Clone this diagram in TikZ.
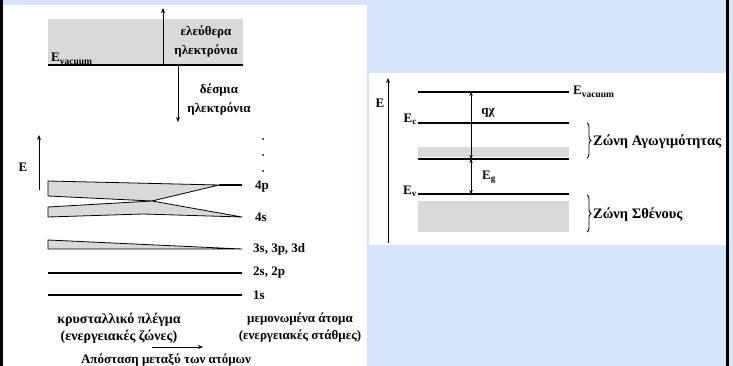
\documentclass[tikz,border=0pt]{standalone}
\usepackage{fontspec}
\setmainfont{Liberation Serif}
\usetikzlibrary{arrows.meta,decorations.pathreplacing}
\definecolor{slideblue}{HTML}{D4E5F7}
\definecolor{bandgray}{HTML}{D9D9D9}
\newcommand{\vacsub}[1]{\raisebox{-0.35ex}{\fontsize{9.5}{10}\selectfont #1}}

\begin{document}
\begin{tikzpicture}[x=1pt,y=-1pt,
  lbl/.style={font=\bfseries\fontsize{13}{19}\selectfont,inner sep=1pt,align=center},
  lbltight/.style={font=\bfseries\fontsize{13}{17}\selectfont,inner sep=1pt,align=center},
  lblwide/.style={font=\bfseries\fontsize{14}{17}\selectfont,inner sep=1pt,align=center},
  zonelbl/.style={font=\bfseries\fontsize{14.5}{16}\selectfont,inner sep=1pt,anchor=west},
  lvl/.style={line width=1.1pt},
  thicklvl/.style={line width=1.9pt},
  band/.style={fill=bandgray,draw=black,line width=0.8pt,line join=round},
  arr/.style={-{Stealth[length=5pt,width=4pt]},line width=0.9pt},
  dblarr/.style={{Stealth[length=4pt,width=3.5pt]}-{Stealth[length=4pt,width=3.5pt]},line width=0.8pt},
  zbrace/.style={decorate,decoration={brace,amplitude=4pt},line width=0.9pt}]
% slide background and panels
\fill[slideblue] (0,0) rectangle (733,366);
\useasboundingbox (0,0) rectangle (733,366);
\fill[white] (3,5) rectangle (367,366);
\fill[white] (369,73) rectangle (726,245);

% left panel: free and bound electrons
\fill[bandgray] (48,19) rectangle (243,65);
\draw[lvl] (48,65) -- (243,65);
\node[lbl,anchor=base west] (evacl) at (50,62) {E\vacsub{vacuum}};
\coordinate (upfrom) at (163,65);
\coordinate (upto) at (163,8);
\draw[arr] (upfrom) -- (upto);
\node[lbl] (free) at (206,42) {ελεύθερα\\ηλεκτρόνια};
\coordinate (downfrom) at (178,65);
\coordinate (downto) at (178,122);
\draw[arr] (downfrom) -- (downto);
\node[lbl] (bound) at (219,100) {δέσμια\\ηλεκτρόνια};

% energy axis and bands
\coordinate (eaxfrom) at (39,190);
\coordinate (eaxto) at (39,135);
\draw[arr] (eaxfrom) -- (eaxto);
\node[lbl] (el) at (23,167) {E};
\foreach \y in {139,155,171}
  \fill (263,\y) circle (1pt);
\filldraw[band] (48,181) -- (219,185) -- (152,201) -- (48,196) -- cycle;
\draw[lvl] (219,185) -- (242,185);
\filldraw[band] (48,207) -- (152,201) -- (242,217) -- (143,214) -- (48,217) -- cycle;
\filldraw[band] (48,240) -- (242,249) -- (48,249) -- cycle;
\draw[lvl] (48,273) -- (242,273);
\draw[lvl] (48,295) -- (242,295);
\node[lbl,anchor=west] (l4p) at (254,187) {4p};
\node[lbl,anchor=west] (l4s) at (254,217) {4s};
\node[lbl,anchor=west] (l3) at (252,249) {3s, 3p, 3d};
\node[lbl,anchor=west] (l2) at (252,273) {2s, 2p};
\node[lbl,anchor=west] (l1) at (252,295) {1s};

\node[lblwide] (lattice) at (119,328) {κρυσταλλικό πλέγμα\\(ενεργειακές ζώνες)};
\node[lbltight] (atoms) at (300,328) {μεμονωμένα άτομα\\(ενεργειακές στάθμες)};
\coordinate (distfrom) at (152,347);
\coordinate (distto) at (203,347);
\draw[arr] (distfrom) -- (distto);
\node[lbl] (dist) at (166,360) {Απόσταση μεταξύ των ατόμων};

% right panel: semiconductor levels
\coordinate (raxfrom) at (388,243);
\coordinate (raxto) at (388,78);
\draw[arr] (raxfrom) -- (raxto);
\node[lbl] (er) at (380,103) {E};
\fill[bandgray] (418,147) rectangle (569,157);
\fill[bandgray] (418,201) rectangle (569,232);
\draw[thicklvl] (418,92) -- (569,92);
\draw[lvl] (418,123) -- (569,123);
\draw[thicklvl] (418,159) -- (569,159);
\draw[thicklvl] (418,194) -- (569,194);
\node[lbl,anchor=base west] (evacr) at (572,95) {E\vacsub{vacuum}};
\node[lbl,anchor=east] (ec) at (418,119) {E\textsubscript{c}};
\node[lbl,anchor=east] (ev) at (418,191) {E\textsubscript{v}};
\coordinate (qtop) at (471,92);
\coordinate (qbot) at (471,159);
\coordinate (gbot) at (471,194);
\draw[dblarr] (qtop) -- (qbot);
\draw[dblarr] (qbot) -- (gbot);
\node[lbl] (qchi) at (488,113) {qχ};
\node[lbl] (eg) at (489,177) {E\textsubscript{g}};
\draw[zbrace] (587,123) -- (587,158);
\draw[zbrace] (587,195) -- (587,232);
\node[zonelbl] (cband) at (592,142) {Ζώνη Αγωγιμότητας};
\node[zonelbl] (vband) at (592,215) {Ζώνη Σθένους};

% slide frame
\fill[black] (0,0) rectangle (3,366);
\fill[black] (726,0) rectangle (729,366);
\end{tikzpicture}
\end{document}
